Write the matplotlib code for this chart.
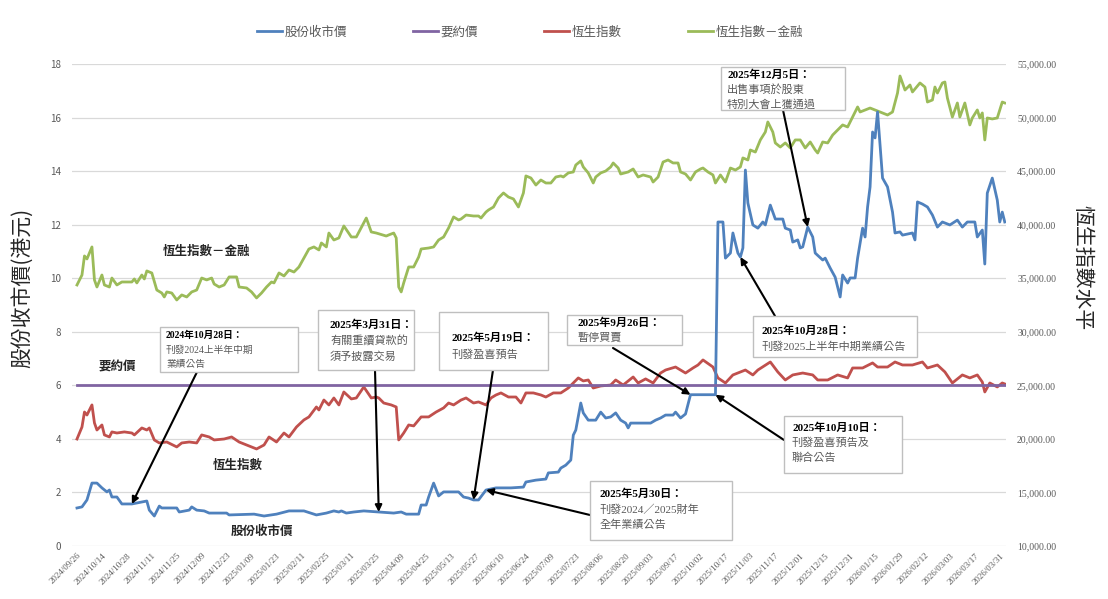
import numpy as np
import matplotlib.pyplot as plt
from matplotlib.patches import Rectangle

plt.rcParams['font.family'] = ['Noto Sans CJK TC', 'DejaVu Sans']
SERIF = ['Liberation Serif', 'Noto Sans CJK TC']

# x axis: trading-day index, labelled every 10 days
tick_dates = ['2024/09/26', '2024/10/14', '2024/10/28', '2024/11/11', '2024/11/25',
              '2024/12/09', '2024/12/23', '2025/01/09', '2025/01/23', '2025/02/11',
              '2025/02/25', '2025/03/11', '2025/03/25', '2025/04/09', '2025/04/25',
              '2025/05/13', '2025/05/27', '2025/06/10', '2025/06/24', '2025/07/09',
              '2025/07/23', '2025/08/06', '2025/08/20', '2025/09/03', '2025/09/17',
              '2025/10/02', '2025/10/17', '2025/11/03', '2025/11/17', '2025/12/01',
              '2025/12/15', '2025/12/31', '2026/01/15', '2026/01/29', '2026/02/12',
              '2026/03/03', '2026/03/17', '2026/03/31']

# share closing price (HKD), left axis
price_day = [0, 2, 4, 6, 8, 10, 12, 13, 14, 16, 18, 22, 28, 29, 31, 33, 34, 40, 41, 45,
             46, 48, 51, 53, 60, 61, 71, 75, 80, 85, 91, 96, 100, 103, 105, 106, 108, 111,
             115, 121, 127, 130, 132, 137, 138, 140, 141, 143, 145, 147, 153, 155, 157,
             159, 161, 164, 168, 174, 179, 180, 184, 188, 189, 193, 194, 196, 198, 199,
             200, 202, 203, 205, 208, 210, 212, 214, 216, 218, 220, 221, 222, 230, 232,
             234, 236, 239, 240, 242, 244, 246, 256, 257, 259, 260, 262, 263, 265, 266,
             267, 268, 269, 271, 273, 275, 276, 278, 280, 283, 284, 286, 287, 289, 290,
             291, 293, 295, 296, 299, 300, 302, 304, 306, 307, 309, 310, 312, 313, 315,
             316, 317, 318, 319, 320, 321, 323, 325, 327, 328, 330, 331, 335, 336, 337,
             339, 341, 343, 345, 347, 350, 353, 355, 357, 360, 361, 363, 364, 365, 367,
             369, 370, 371, 372]
price = [1.42, 1.46, 1.72, 2.35, 2.35, 2.17, 2.02, 2.09, 1.83, 1.83, 1.57, 1.57, 1.68,
         1.34, 1.12, 1.49, 1.42, 1.42, 1.27, 1.34, 1.46, 1.34, 1.31, 1.23, 1.23, 1.16,
         1.19, 1.12, 1.19, 1.31, 1.31, 1.16, 1.23, 1.31, 1.27, 1.31, 1.23, 1.27, 1.31,
         1.27, 1.23, 1.27, 1.19, 1.19, 1.53, 1.53, 1.83, 2.35, 1.87, 2.02, 2.02, 1.83,
         1.79, 1.72, 1.72, 2.09, 2.17, 2.17, 2.20, 2.39, 2.46, 2.50, 2.73, 2.76, 2.91,
         3.02, 3.21, 4.14, 4.33, 5.34, 4.97, 4.70, 4.70, 5.00, 4.78, 4.82, 4.97, 4.70,
         4.59, 4.41, 4.59, 4.59, 4.70, 4.78, 4.89, 4.89, 5.00, 4.78, 4.93, 5.65, 5.65,
         12.10, 12.10, 10.75, 10.94, 11.69, 10.94, 10.79, 11.13, 14.04, 12.81, 11.99,
         11.87, 12.10, 11.99, 12.73, 12.21, 12.21, 11.87, 11.80, 11.35, 11.43, 11.13,
         11.17, 11.91, 11.54, 10.94, 10.68, 10.75, 10.38, 10.04, 9.30, 10.12, 9.82,
         10.01, 10.01, 10.75, 11.87, 11.54, 12.66, 13.41, 15.46, 15.24, 16.21, 13.74,
         13.41, 12.47, 11.69, 11.73, 11.61, 11.69, 11.43, 12.85, 12.77, 12.66, 12.36,
         11.91, 12.10, 11.99, 12.17, 11.91, 12.10, 12.10, 11.54, 11.80, 10.53, 13.18,
         13.74, 12.92, 12.10, 12.47, 12.10]

offer_price = 6.0

# Hang Seng Index, right axis
hsi_day = [0, 2, 3, 4, 6, 7, 8, 10, 11, 13, 14, 16, 19, 22, 23, 26, 28, 29, 31, 33, 36,
           40, 42, 45, 48, 50, 53, 55, 59, 62, 65, 68, 71, 72, 75, 77, 80, 83, 85, 88,
           91, 93, 96, 97, 99, 101, 103, 105, 107, 110, 112, 115, 118, 120, 121, 123,
           126, 128, 129, 131, 133, 135, 138, 141, 144, 147, 149, 151, 154, 156, 159,
           161, 164, 166, 168, 170, 173, 176, 178, 180, 183, 186, 188, 191, 194, 197,
           201, 203, 205, 207, 210, 214, 216, 219, 223, 225, 228, 231, 234, 236, 240,
           242, 244, 247, 249, 251, 255, 257, 260, 263, 265, 268, 271, 273, 278, 281,
           284, 287, 291, 295, 297, 301, 305, 309, 311, 315, 319, 321, 325, 328, 331,
           335, 339, 341, 345, 348, 351, 355, 358, 361, 363, 364, 366, 369, 371, 372]
hsi = [19990, 21110, 22510, 22230, 23170, 21490, 20830, 21300, 20370, 20180, 20650,
       20550, 20650, 20550, 20370, 21020, 20830, 21020, 19900, 19620, 19710, 19250,
       19620, 19710, 19620, 20370, 20180, 19900, 19990, 20180, 19710, 19430, 19150,
       19060, 19430, 20180, 19710, 20550, 20180, 21110, 21770, 22050, 22980, 22700,
       23630, 23170, 23820, 23170, 24380, 23730, 23820, 24850, 23820, 23910, 23820,
       23350, 23170, 22980, 19900, 20550, 21300, 21210, 22050, 22050, 22510, 22890,
       23350, 23170, 23630, 23820, 23350, 23450, 23170, 23820, 24100, 24290, 23910,
       23910, 23350, 24290, 24290, 24100, 23910, 24290, 24290, 24750, 25690, 25410,
       25500, 24750, 24940, 25030, 25500, 25030, 25780, 25220, 25600, 25220, 26150,
       26430, 26710, 26430, 26150, 26620, 26900, 27370, 26710, 25690, 25220, 25970,
       26150, 26430, 25970, 26430, 27180, 26250, 25500, 25970, 26150, 25970, 25500,
       25500, 25970, 25690, 26620, 26620, 27090, 26710, 26710, 27180, 26900, 26900,
       27180, 26620, 26900, 26250, 25220, 25970, 25690, 25970, 25310, 24380, 25220,
       24850, 25220, 25130]

# Hang Seng Index - Financials, right axis
fin_day = [0, 2, 3, 4, 6, 7, 8, 10, 11, 13, 14, 16, 18, 22, 23, 24, 26, 27, 28, 30, 32,
           34, 35, 36, 38, 40, 42, 44, 46, 48, 50, 52, 54, 55, 57, 59, 61, 64, 65, 68,
           70, 72, 74, 76, 78, 79, 81, 83, 85, 87, 89, 91, 93, 95, 97, 98, 100, 101,
           103, 105, 107, 110, 112, 116, 118, 120, 124, 125, 127, 128, 129, 130, 131,
           133, 135, 137, 138, 141, 143, 145, 147, 149, 151, 153, 154, 156, 159, 161,
           162, 164, 165, 167, 169, 171, 173, 175, 177, 179, 180, 182, 184, 186, 188,
           190, 192, 194, 195, 197, 199, 200, 202, 203, 205, 207, 208, 210, 212, 214,
           215, 217, 218, 221, 223, 225, 227, 230, 231, 233, 235, 237, 239, 241, 242,
           244, 246, 248, 250, 251, 253, 255, 256, 258, 260, 262, 264, 266, 267, 269,
           270, 272, 274, 276, 277, 279, 280, 282, 284, 286, 288, 290, 292, 294, 296,
           297, 299, 301, 303, 305, 307, 309, 311, 313, 314, 316, 318, 320, 322, 325,
           327, 329, 330, 332, 334, 335, 338, 340, 341, 343, 344, 345, 347, 348, 349,
           351, 353, 354, 356, 358, 359, 361, 362, 363, 364, 365, 367, 369, 371, 372]
hsi_fin = [34370, 35300, 37080, 36800, 37920, 34840, 34180, 35300, 34370, 34180, 35020,
           34370, 34650, 34650, 34930, 34560, 35300, 34930, 35680, 35490, 33900, 33620,
           33250, 33720, 33620, 32970, 33440, 33250, 33720, 33900, 35020, 34840, 35020,
           34460, 34180, 34370, 35120, 35120, 34180, 34090, 33720, 33160, 33620, 34180,
           34650, 34560, 35490, 35210, 35770, 35580, 36050, 36890, 37730, 37920, 37640,
           38290, 37920, 39220, 38570, 38760, 39880, 38850, 38850, 40620, 39320, 39220,
           38940, 39040, 39220, 38760, 34180, 33720, 34560, 36050, 36050, 36980, 37730,
           37820, 37920, 38570, 38850, 39690, 40720, 40440, 40530, 40900, 40810, 40810,
           40620, 41180, 41370, 41650, 42490, 42960, 42580, 42400, 41650, 42960, 44550,
           44360, 43700, 44170, 43890, 43890, 44450, 44550, 44450, 44830, 44920, 45570,
           45950, 45390, 44830, 43890, 44450, 44830, 45010, 45390, 45760, 45290, 44730,
           44920, 45200, 44450, 44640, 44450, 43980, 44450, 45850, 46040, 45760, 45760,
           44920, 44730, 44170, 44920, 45200, 45290, 44920, 44640, 43890, 44640, 43980,
           45290, 45100, 45390, 46230, 46040, 46970, 46780, 47910, 48650, 49590, 48650,
           47630, 47250, 47630, 47160, 47910, 47910, 47160, 47720, 46970, 46690, 47720,
           47630, 48370, 48840, 49310, 49120, 50050, 50990, 50520, 50710, 50890, 50710,
           50520, 50240, 50520, 52290, 53880, 52570, 53040, 52390, 53230, 52850, 51450,
           51640, 52850, 52290, 53230, 53320, 51830, 50050, 51360, 50050, 51360, 49310,
           49960, 50710, 49960, 50430, 47910, 49960, 49870, 49960, 51450, 51360]

BLUE, PURPLE, RED, GREEN = '#4f81bd', '#8064a2', '#c0504d', '#9bbb59'
GREY = '#595959'

W, H = 1108, 599
fig = plt.figure(figsize=(W / 100, H / 100), dpi=100)
ax = fig.add_axes([72 / W, 53 / H, 934 / W, 482 / H])
ax2 = ax.twinx()
ax.set_zorder(ax2.get_zorder() + 1)
ax.patch.set_visible(False)

# right axis series
ax2.plot(hsi_day, hsi, color=RED, lw=2, label='恆生指數')
ax2.plot(fin_day, hsi_fin, color=GREEN, lw=2, label='恆生指數－金融')
ax2.set_ylim(10000, 55000)
ax2.set_yticks(range(10000, 55001, 5000))
ax2.set_yticklabels([f'{v:,.2f}' for v in range(10000, 55001, 5000)],
                    family=SERIF, fontsize=7, color=GREY)
ax2.grid(axis='y', color='#d9d9d9', lw=0.9)
ax2.set_axisbelow(True)

# left axis series
l_price, = ax.plot(price_day, price, color=BLUE, lw=2, label='股份收市價')
l_offer, = ax.plot([price_day[0], price_day[-1]], [offer_price, offer_price],
                   color=PURPLE, lw=2, label='要約價')
ax.set_ylim(0, 18)
ax.set_yticks(range(0, 19, 2))
ax.tick_params(axis='y', labelsize=7, labelcolor=GREY, length=0, pad=8)
ax2.tick_params(axis='y', length=0, pad=8)
ax.set_xlim(-2, 372.5)
ax.set_xticks(range(0, 371, 10))
ax.set_xticklabels(tick_dates, rotation=45, ha='right', rotation_mode='anchor',
                   family=SERIF, fontsize=6.5, color=GREY)
ax.tick_params(axis='x', length=0, pad=4)
for a in (ax, ax2):
    for s in a.spines.values():
        s.set_visible(False)


def fp(px, py):
    return px / W, 1 - py / H


fig.text(*fp(22, 288), '股份收市價(港元)', rotation=90, ha='center', va='center',
         fontsize=15, color='#262626')
fig.text(*fp(1082, 268), '恆生指數水平', rotation=-90, ha='center', va='center',
         fontsize=15, color='#262626')

# series labels inside the plot
for txt, (px, py) in [('恆生指數－金融', (207, 251)), ('要約價', (117, 367)),
                      ('恆生指數', (238, 465)), ('股份收市價', (262, 531))]:
    ax.text(*fp(px, py), txt, transform=fig.transFigure, ha='center', va='center',
            fontsize=9, fontweight='bold', color='#262626')

h2 = ax2.get_legend_handles_labels()[0]
leg = fig.legend([l_price, l_offer] + h2, ['股份收市價', '要約價', '恆生指數', '恆生指數－金融'],
                 loc='center', bbox_to_anchor=(fp(530, 32)), ncol=4, frameon=False,
                 fontsize=9, handlelength=2.0, handletextpad=0.2, columnspacing=5.3)
for t in leg.get_texts():
    t.set_color(GREY)


def note(box, lines, text_x, line_y, day, start, fs=8):
    x0, y0, x1, y1 = box
    bx, by = fp(x0, y1)
    ax.add_patch(Rectangle((bx, by), (x1 - x0) / W, (y1 - y0) / H, transform=fig.transFigure,
                           facecolor='white', edgecolor='#bfbfbf', lw=1, zorder=6,
                           clip_on=False))
    for i, (line, py) in enumerate(zip(lines, line_y)):
        ax.text(*fp(text_x, py), line, transform=fig.transFigure, ha='left', va='center',
                family=SERIF, fontsize=fs, zorder=7,
                fontweight='bold' if i == 0 else 'normal',
                color='black' if i == 0 else GREY)
    ax.annotate('', xy=(day, price[price_day.index(day)]), xycoords='data',
                xytext=fp(*start), textcoords='figure fraction', zorder=5,
                arrowprops=dict(arrowstyle='-|>', color='black', lw=1.5,
                                mutation_scale=10, shrinkA=0, shrinkB=0))


note((160, 327, 298, 372), ['2024年10月28日：', '刊發2024上半年中期', '業績公告'],
     166, (335, 350, 364), 22, (197, 372), fs=7)
note((318, 310, 414, 370), ['2025年3月31日：', '有關重續貸款的', '須予披露交易'],
     330, (325, 341, 357), 121, (375, 370))
note((439, 312, 548, 370), ['2025年5月19日：', '刊發盈喜預告'],
     452, (338, 355), 159, (493, 370))
note((567, 315, 682, 345), ['2025年9月26日：', '暫停買賣'],
     577, (323, 338), 246, (613, 348))
note((721, 67, 845, 110), ['2025年12月5日：', '出售事項於股東', '特別大會上獲通過'],
     727, (75, 89, 104), 293, (783, 110))
note((753, 316, 917, 357), ['2025年10月28日：', '刊發2025上半年中期業績公告'],
     762, (331, 347), 266, (775, 316))
note((784, 416, 902, 473), ['2025年10月10日：', '刊發盈喜預告及', '聯合公告'],
     792, (428, 443, 458), 256, (784, 440))
note((590, 481, 732, 540), ['2025年5月30日：', '刊發2024／2025財年', '全年業績公告'],
     600, (494, 510, 525), 164, (590, 515))

fig.savefig('out.png', dpi=100)
